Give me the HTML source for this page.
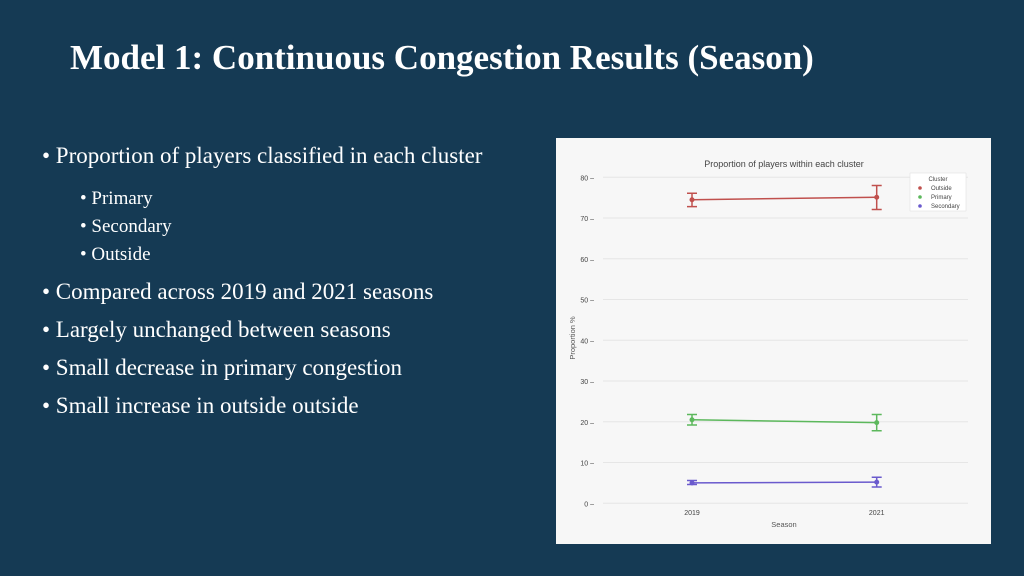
<!DOCTYPE html>
<html><head><meta charset="utf-8"><style>
body{margin:0;width:1024px;height:576px;background:#153a54;overflow:hidden;font-family:"Liberation Serif",serif;color:#fff;position:relative}
#title{position:absolute;left:70px;top:38px;font-size:35px;font-weight:bold;white-space:nowrap}
.b{position:absolute;white-space:nowrap;font-size:23px}
.s{position:absolute;white-space:nowrap;font-size:19px}
#chart{position:absolute;left:556px;top:138px;width:435px;height:406px}
</style></head><body>
<div id="title">Model 1: Continuous Congestion Results (Season)</div>
<div class="b" style="left:42px;top:143px">• Proportion of players classified in each cluster</div>
<div class="s" style="left:80px;top:188px">• Primary</div>
<div class="s" style="left:80px;top:216px">• Secondary</div>
<div class="s" style="left:80px;top:244px">• Outside</div>
<div class="b" style="left:42px;top:279px">• Compared across 2019 and 2021 seasons</div>
<div class="b" style="left:42px;top:317px">• Largely unchanged between seasons</div>
<div class="b" style="left:42px;top:355px">• Small decrease in primary congestion</div>
<div class="b" style="left:42px;top:393px">• Small increase in outside outside</div>
<svg id="chart" width="435" height="406" viewBox="0 0 435 406" font-family="Liberation Sans, sans-serif"></svg>
<script>
const seasons=["2019","2021"];
const clusters=["Outside","Primary","Secondary"];
const colors=["#c0504d","#5cb85c","#6a5acd"];
const outsideVals=[74.5,75.1],outsideLo=[72.8,72.1],outsideHi=[76.1,78.0];
const primaryVals=[20.5,19.8],primaryLo=[19.2,17.8],primaryHi=[21.8,21.8];
const secondaryVals=[5.0,5.2],secondaryLo=[4.6,4.0],secondaryHi=[5.6,6.4];
const yTicks=[0,10,20,30,40,50,60,70,80];
const svg=document.getElementById('chart');const NS='http://www.w3.org/2000/svg';
function mk(t,a,txt){const e=document.createElementNS(NS,t);for(const k in a)e.setAttribute(k,a[k]);if(txt!=null)e.textContent=txt;svg.appendChild(e);return e;}
const y=v=>365.3-v*4.075;
const x=i=>136+i*184.7;
let e=mk('rect',{x:0,y:0,width:435,height:406,fill:'#f7f7f7'});


e=mk('text',{x:228,y:29,'text-anchor':'middle','font-size':9,fill:'#444'},'Proportion of players within each cluster');


yTicks.forEach(t=>{
 e=mk('line',{x1:47,x2:412,y1:y(t),y2:y(t),stroke:'#e6e6e6','stroke-width':1});
 
 
 e=mk('text',{x:38,y:y(t)+3,'text-anchor':'end','font-size':7,fill:'#444'},t+' –');
 
 
});
seasons.forEach((s,i)=>{
 e=mk('text',{x:x(i),y:377,'text-anchor':'middle','font-size':7,fill:'#444'},s);
 
 
});
e=mk('text',{x:228,y:389,'text-anchor':'middle','font-size':7.5,fill:'#555'},'Season');


e=mk('text',{x:19,y:200,'text-anchor':'middle','font-size':7.5,fill:'#555',transform:'rotate(-90 19 200)'},'Proportion %');


const series=[[outsideVals,outsideLo,outsideHi],[primaryVals,primaryLo,primaryHi],[secondaryVals,secondaryLo,secondaryHi]];
series.forEach((sr,k)=>{
 const [v,lo,hi]=sr,c=colors[k];
 e=mk('polyline',{points:v.map((d,i)=>x(i)+','+y(d)).join(' '),fill:'none',stroke:c,'stroke-width':1.5});
 
 
 v.forEach((d,i)=>{
  e=mk('path',{d:`M${x(i)-5},${y(hi[i])}H${x(i)+5}M${x(i)},${y(hi[i])}V${y(lo[i])}M${x(i)-5},${y(lo[i])}H${x(i)+5}`,stroke:c,'stroke-width':1.5,fill:'none'});
  
  
  e=mk('circle',{cx:x(i),cy:y(d),r:2.5,fill:c});
  
  
 });
});
e=mk('rect',{x:354,y:35,width:56,height:38,fill:'#fff',stroke:'#ddd','stroke-width':0.5});


mk('text',{x:382,y:43,'text-anchor':'middle','font-size':6,fill:'#444'},'Cluster');
clusters.forEach((n,k)=>{
 e=mk('circle',{cx:364,cy:50+k*9,r:1.8,fill:colors[k]});
 
 
 e=mk('text',{x:375,y:52+k*9,'font-size':6,fill:'#444'},n);
 
 
});
</script>
</body></html>
